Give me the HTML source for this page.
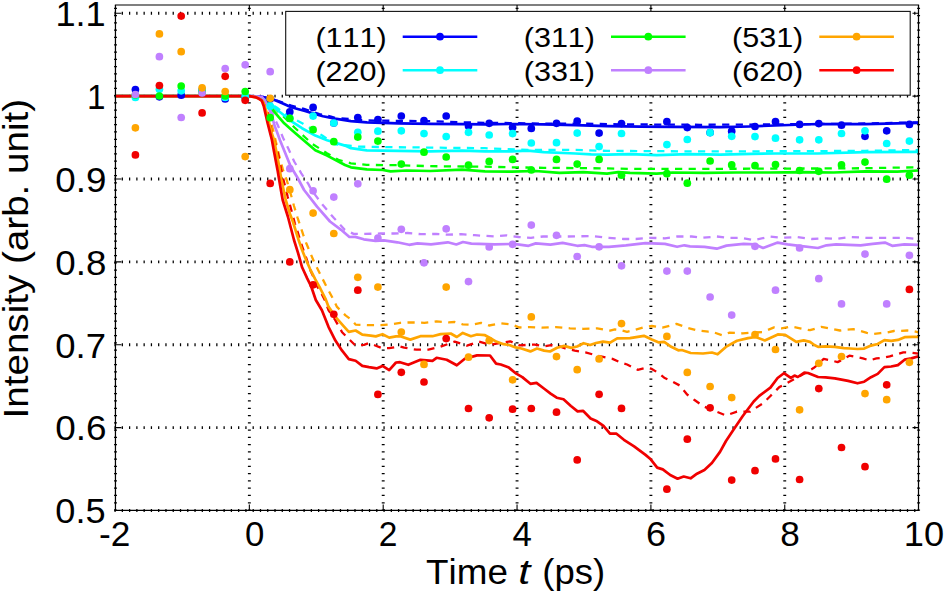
<!DOCTYPE html>
<html><head><meta charset="utf-8"><style>
html,body{margin:0;padding:0;background:#fff;width:944px;height:594px;overflow:hidden}
svg{display:block}
text{font-family:"Liberation Sans", sans-serif;fill:#000;font-kerning:none;font-feature-settings:"kern" 0}
</style></head><body>
<svg width="944" height="594" viewBox="0 0 944 594">
<rect width="944" height="594" fill="#fff"/>
<g stroke="#000" stroke-width="2.9" stroke-dasharray="1.25 6.02" fill="none"><line x1="249.35" y1="510.66" x2="249.35" y2="5.00"/><line x1="383.20" y1="510.66" x2="383.20" y2="5.00"/><line x1="517.05" y1="510.66" x2="517.05" y2="5.00"/><line x1="650.90" y1="510.66" x2="650.90" y2="5.00"/><line x1="784.75" y1="510.66" x2="784.75" y2="5.00"/><line x1="918.60" y1="510.66" x2="918.60" y2="5.00"/><line x1="115.50" y1="510.66" x2="115.50" y2="5.00"/><line x1="114.45" y1="13.29" x2="918.50" y2="13.29"/><line x1="114.45" y1="96.15" x2="918.50" y2="96.15"/><line x1="114.45" y1="179.01" x2="918.50" y2="179.01"/><line x1="114.45" y1="261.87" x2="918.50" y2="261.87"/><line x1="114.45" y1="344.73" x2="918.50" y2="344.73"/><line x1="114.45" y1="427.59" x2="918.50" y2="427.59"/><line x1="114.45" y1="510.45" x2="918.50" y2="510.45"/></g><path d="M249.35 510.45v-6M249.35 5.0v6M383.20 510.45v-6M383.20 5.0v6M517.05 510.45v-6M517.05 5.0v6M650.90 510.45v-6M650.90 5.0v6M784.75 510.45v-6M784.75 5.0v6M115.45 13.29h6M918.5 13.29h-6M115.45 96.15h6M918.5 96.15h-6M115.45 179.01h6M918.5 179.01h-6M115.45 261.87h6M918.5 261.87h-6M115.45 344.73h6M918.5 344.73h-6M115.45 427.59h6M918.5 427.59h-6" stroke="#000" stroke-width="1.1" fill="none"/><path d="M249.4 96.2 L262.0 96.5 L277.0 100.5 L291.3 105.6 L303.9 108.9 L319.4 114.0 L331.0 116.6 L335.0 117.8 L366.8 120.4 L398.6 120.9 L430.3 121.2 L462.1 122.3 L485.0 122.8 L511.8 123.1 L543.6 123.6 L575.3 123.6 L607.1 124.1 L630.0 124.4 L700.0 124.8 L775.0 124.4 L820.0 124.0 L865.0 123.5 L918.6 122.3" fill="none" stroke="#0000f0" stroke-width="2.3" stroke-dasharray="7.2 6.4" stroke-linejoin="round"/><path d="M249.4 96.2 L258.0 97.0 L264.0 99.5 L270.0 103.5 L277.0 107.7 L282.0 111.9 L298.0 121.1 L303.1 123.7 L322.6 135.7 L335.0 144.3 L358.8 146.6 L382.7 147.1 L414.5 147.4 L446.2 147.8 L485.0 148.2 L527.7 149.8 L575.3 149.8 L607.1 150.9 L700.0 151.4 L800.0 151.2 L865.0 150.8 L918.5 150.0" fill="none" stroke="#00ffff" stroke-width="2.3" stroke-dasharray="7.2 6.4" stroke-linejoin="round"/><path d="M249.3 96.2 L256.0 96.8 L262.0 98.0 L268.0 102.5 L274.5 108.0 L284.0 117.0 L294.5 127.5 L304.7 137.0 L311.9 143.6 L317.8 147.4 L326.5 153.0 L338.3 159.8 L350.9 163.3 L366.8 164.9 L398.6 165.2 L430.3 166.2 L462.1 166.5 L485.0 166.7 L511.8 167.3 L543.6 167.8 L575.3 168.1 L607.1 168.4 L630.0 168.9 L700.0 168.9 L775.0 168.6 L850.0 168.4 L918.5 167.3" fill="none" stroke="#00ff00" stroke-width="2.3" stroke-dasharray="7.2 6.4" stroke-linejoin="round"/><path d="M249.4 96.2 L260.0 96.8 L265.0 100.0 L269.0 106.0 L272.5 113.0 L275.3 120.0 L277.7 125.0 L283.6 139.1 L288.3 148.6 L294.2 161.5 L301.3 173.3 L308.3 183.9 L311.5 190.0 L322.6 204.8 L333.7 217.8 L344.8 229.8 L353.6 233.9 L365.4 233.9 L380.5 233.5 L394.0 233.5 L407.4 233.0 L420.9 234.2 L436.1 233.9 L447.8 234.7 L461.3 234.2 L474.8 235.2 L494.4 236.5 L506.5 235.3 L518.7 237.0 L530.9 237.8 L543.1 236.5 L567.5 236.5 L591.8 236.1 L608.9 237.8 L623.5 239.0 L635.7 239.0 L650.3 237.8 L664.9 238.3 L677.1 236.5 L691.7 236.5 L702.2 237.8 L716.8 236.5 L729.0 237.8 L741.2 237.8 L753.4 240.2 L770.4 236.5 L782.6 237.8 L797.2 237.0 L811.8 239.0 L826.5 238.3 L836.2 239.0 L850.8 237.0 L865.4 237.8 L880.0 237.8 L904.4 237.8 L918.6 239.0" fill="none" stroke="#c080ff" stroke-width="2.3" stroke-dasharray="7.2 6.4" stroke-linejoin="round"/><path d="M249.3 96.2 L258.0 97.3 L263.0 100.3 L267.0 107.8 L270.0 117.8 L273.0 129.7 L278.9 154.5 L283.0 170.0 L287.0 181.0 L291.0 195.0 L294.0 206.0 L297.6 217.8 L303.1 234.4 L306.2 243.0 L314.2 262.2 L320.3 274.3 L326.4 286.5 L332.9 298.6 L337.0 306.9 L345.5 315.4 L352.2 320.4 L355.6 324.6 L367.3 325.1 L380.8 325.1 L392.6 324.1 L400.2 322.8 L410.3 322.4 L424.4 322.8 L436.6 321.4 L448.7 322.4 L454.7 322.0 L462.8 324.4 L470.9 324.8 L481.0 322.8 L489.1 325.5 L501.2 323.4 L511.3 324.4 L519.4 327.5 L530.0 327.1 L541.8 327.7 L555.9 327.1 L570.0 328.3 L583.0 328.8 L597.1 328.3 L610.1 330.6 L614.8 329.4 L620.0 330.0 L627.1 331.8 L634.1 330.0 L646.5 326.5 L651.8 326.0 L662.4 327.7 L676.5 323.8 L687.1 327.7 L697.7 330.5 L708.3 331.6 L711.1 331.5 L722.2 335.2 L729.6 332.6 L742.6 333.3 L763.0 332.0 L774.1 327.4 L781.5 328.3 L790.7 326.5 L800.0 328.3 L810.0 330.2 L821.3 326.9 L830.0 328.5 L840.0 330.5 L845.4 329.7 L853.5 329.2 L860.2 330.8 L866.9 332.8 L872.3 334.1 L880.4 333.1 L887.1 332.4 L893.9 331.0 L900.6 330.8 L907.3 330.5 L912.7 331.0 L918.5 332.4" fill="none" stroke="#ffa500" stroke-width="2.3" stroke-dasharray="7.2 6.4" stroke-linejoin="round"/><path d="M249.3 96.2 L258.0 97.3 L263.0 100.8 L266.0 107.8 L269.0 118.8 L271.2 129.7 L275.3 143.9 L278.5 155.5 L281.0 169.0 L284.0 182.0 L287.7 196.7 L290.0 205.0 L294.8 223.3 L298.0 233.0 L301.6 245.0 L306.2 258.0 L310.7 271.0 L313.7 277.4 L315.8 284.4 L319.3 289.5 L324.8 300.0 L328.6 310.3 L335.4 320.4 L342.1 332.2 L348.8 338.9 L355.6 345.7 L364.0 344.8 L369.0 343.1 L375.8 345.7 L382.5 348.2 L389.2 348.2 L400.0 346.5 L404.2 347.7 L416.4 349.7 L428.5 349.7 L440.6 346.7 L454.7 341.6 L466.9 345.7 L479.0 341.6 L490.0 344.7 L510.2 341.3 L519.6 345.4 L530.4 344.7 L534.7 344.7 L544.1 346.3 L551.2 345.1 L558.3 345.9 L565.3 348.3 L574.8 350.6 L585.4 352.4 L598.3 355.9 L612.5 358.9 L621.9 363.0 L627.1 364.5 L637.7 369.8 L646.5 367.7 L651.8 368.9 L658.9 373.3 L664.2 377.7 L673.0 381.8 L680.1 385.7 L687.1 394.5 L694.2 399.8 L703.0 406.0 L709.3 408.9 L716.7 411.7 L725.9 415.4 L737.0 411.7 L750.0 411.7 L763.0 403.3 L770.2 396.2 L779.3 387.1 L785.7 383.9 L800.0 376.0 L813.5 368.1 L816.3 365.8 L823.7 358.9 L830.6 360.3 L837.6 362.1 L842.2 359.8 L849.4 355.7 L856.2 357.0 L862.9 358.4 L869.6 360.4 L876.4 358.4 L883.1 357.7 L889.8 356.4 L896.6 354.3 L903.3 352.3 L910.0 352.6 L918.5 353.7" fill="none" stroke="#f00000" stroke-width="2.3" stroke-dasharray="7.2 6.4" stroke-linejoin="round"/><path d="M115.5 96.2 L249.3 96.2 L256.0 96.3 L262.0 96.7 L272.8 99.3 L282.9 103.5 L291.3 107.3 L305.0 111.0 L313.0 113.4 L323.0 116.2 L335.0 118.6 L350.9 121.2 L366.8 122.3 L382.7 122.8 L398.6 123.3 L430.3 123.9 L462.1 124.1 L485.0 124.3 L511.8 124.0 L543.6 124.4 L575.3 125.2 L607.1 126.2 L640.0 126.6 L672.7 126.8 L720.3 127.2 L750.0 126.5 L775.0 125.5 L817.7 124.0 L865.3 124.1 L897.1 123.3 L918.6 122.8" fill="none" stroke="#0000f0" stroke-width="2.7" stroke-linejoin="round"/><path d="M115.5 96.2 L249.3 96.2 L256.0 96.5 L262.0 98.0 L267.0 101.5 L273.4 106.4 L279.5 111.8 L285.6 116.5 L292.3 121.9 L302.0 128.2 L315.3 135.6 L327.1 140.3 L345.0 145.6 L350.9 148.2 L366.8 150.3 L398.6 150.9 L430.3 151.4 L462.1 150.6 L485.0 151.4 L511.8 151.4 L527.7 150.6 L543.6 152.2 L575.3 153.5 L591.2 154.3 L607.1 154.6 L630.0 154.1 L656.8 155.1 L688.6 154.1 L720.3 154.6 L752.1 153.8 L775.0 153.5 L817.7 153.5 L865.3 152.2 L918.5 151.9" fill="none" stroke="#00ffff" stroke-width="2.7" stroke-linejoin="round"/><path d="M115.5 96.2 L249.3 96.2 L258.0 97.0 L262.0 98.5 L266.0 102.0 L269.5 105.8 L272.8 109.8 L278.8 117.2 L284.2 123.3 L290.3 128.7 L295.7 133.4 L303.6 140.3 L315.3 150.3 L327.1 155.6 L345.0 165.0 L350.9 167.3 L366.8 169.4 L382.7 170.0 L390.6 171.3 L406.5 170.5 L430.3 171.0 L462.1 169.7 L485.0 171.3 L511.8 171.6 L535.6 171.0 L559.5 172.9 L583.3 172.1 L607.1 173.7 L618.2 172.1 L630.0 172.9 L656.8 173.7 L672.7 172.5 L704.5 172.9 L736.2 172.5 L770.0 172.5 L801.8 172.1 L833.6 172.5 L865.3 171.3 L897.1 171.6 L918.5 170.5" fill="none" stroke="#00ff00" stroke-width="2.7" stroke-linejoin="round"/><path d="M115.5 96.2 L249.3 96.2 L258.0 96.5 L261.8 96.9 L265.2 101.0 L269.4 109.4 L271.9 115.3 L274.3 125.0 L277.0 132.1 L280.0 140.3 L284.8 152.1 L290.6 166.3 L297.7 178.0 L304.1 190.0 L317.0 206.7 L330.0 221.5 L341.1 229.8 L349.4 237.0 L355.3 236.9 L363.7 239.3 L375.5 240.9 L383.9 240.3 L397.3 242.3 L409.1 244.8 L417.5 243.3 L431.0 244.3 L447.8 242.3 L456.3 244.5 L463.0 242.0 L471.4 243.6 L494.4 244.3 L513.9 243.9 L528.5 245.8 L535.8 243.4 L550.4 244.6 L562.6 242.9 L577.2 245.8 L584.5 245.1 L591.8 246.8 L608.9 246.8 L625.9 245.3 L645.4 243.1 L664.9 243.9 L677.1 246.8 L684.4 245.3 L690.0 246.3 L704.6 246.8 L716.8 248.7 L726.5 245.6 L743.6 243.9 L754.6 244.3 L763.1 248.0 L777.7 242.6 L787.5 244.3 L799.6 245.8 L817.9 248.0 L826.5 245.3 L836.2 244.3 L860.6 245.3 L872.7 243.9 L884.9 242.6 L892.2 245.8 L904.4 244.3 L918.6 244.8" fill="none" stroke="#c080ff" stroke-width="2.7" stroke-linejoin="round"/><path d="M115.5 96.2 L249.3 96.2 L256.0 97.3 L260.0 99.3 L263.0 101.8 L265.0 106.8 L267.0 114.2 L269.3 123.5 L272.0 134.0 L274.1 140.0 L278.0 160.0 L281.5 180.0 L285.7 200.0 L290.0 214.0 L293.0 222.0 L298.6 240.0 L302.1 250.1 L306.2 260.2 L310.2 269.3 L315.3 279.4 L320.3 288.5 L325.4 298.6 L328.6 306.9 L337.0 318.7 L343.8 326.3 L348.8 331.9 L355.6 330.5 L362.3 334.7 L370.7 335.6 L375.8 336.4 L382.5 334.2 L389.2 337.6 L396.0 336.4 L400.2 336.2 L410.3 339.6 L420.4 336.2 L432.5 336.2 L440.6 334.1 L450.7 333.5 L456.8 337.0 L462.8 332.9 L470.9 336.2 L477.0 334.5 L485.0 335.2 L490.0 338.0 L496.2 341.6 L503.5 344.2 L509.3 345.0 L515.6 347.4 L521.4 348.5 L530.4 351.4 L537.0 348.5 L544.1 350.6 L550.0 351.5 L557.1 347.8 L564.2 345.9 L571.2 347.9 L577.1 346.5 L583.6 343.2 L590.1 345.0 L596.0 343.0 L603.0 341.6 L610.1 342.7 L617.2 338.3 L630.0 338.2 L643.9 335.8 L651.8 339.4 L658.9 342.4 L664.2 341.9 L671.2 346.8 L678.3 350.3 L681.8 350.0 L690.7 353.0 L703.0 353.5 L711.9 352.5 L717.6 354.3 L725.9 346.9 L737.0 340.7 L748.1 338.1 L755.6 337.0 L764.8 340.4 L777.8 334.4 L785.2 334.8 L796.3 341.9 L803.7 340.4 L810.0 341.9 L814.4 345.0 L818.1 346.9 L825.6 346.4 L834.8 346.9 L844.0 348.2 L850.0 348.5 L857.5 349.0 L864.2 348.6 L871.0 345.6 L877.7 344.0 L884.4 340.2 L891.2 340.9 L897.9 339.9 L904.6 337.2 L912.7 336.8 L918.5 336.8" fill="none" stroke="#ffa500" stroke-width="2.7" stroke-linejoin="round"/><path d="M115.5 96.2 L249.3 96.2 L255.1 97.1 L259.0 98.8 L261.8 100.7 L263.9 106.6 L265.6 114.2 L267.7 123.5 L270.3 133.6 L271.9 140.0 L274.1 152.0 L277.7 171.0 L280.9 190.0 L282.7 200.0 L288.0 217.0 L294.0 240.0 L298.1 253.1 L302.1 267.3 L307.2 278.4 L311.2 286.5 L315.8 300.0 L321.9 310.3 L328.6 327.1 L335.4 340.6 L342.1 350.7 L348.8 359.1 L355.6 360.8 L362.3 365.9 L369.0 367.2 L376.6 368.4 L382.5 365.9 L389.2 370.1 L396.0 362.5 L400.0 362.2 L408.3 364.8 L420.4 359.8 L432.5 360.8 L436.6 357.8 L446.7 359.8 L456.8 365.3 L464.8 358.8 L477.0 355.4 L490.0 355.5 L496.1 363.6 L500.8 364.5 L508.9 367.6 L516.3 373.7 L522.3 377.1 L530.4 383.8 L536.5 382.9 L543.9 388.5 L550.6 393.6 L556.7 397.7 L563.5 399.3 L570.9 406.0 L577.6 411.4 L583.0 410.8 L590.6 418.5 L597.0 421.3 L603.5 425.9 L610.0 433.7 L616.5 433.7 L623.9 439.8 L634.1 446.3 L645.2 454.6 L650.7 459.3 L657.2 467.6 L662.8 469.4 L670.2 475.0 L677.6 478.7 L683.7 476.5 L690.6 478.3 L697.0 473.7 L704.4 470.0 L711.9 463.0 L720.0 451.9 L726.0 441.0 L733.3 430.0 L742.6 416.3 L753.7 401.5 L759.3 395.9 L770.4 387.6 L777.6 378.0 L783.9 373.2 L790.8 377.9 L794.5 375.6 L797.8 377.0 L804.3 372.6 L808.0 373.0 L818.1 377.0 L825.6 377.4 L834.8 378.3 L840.2 379.3 L848.1 380.9 L857.5 383.3 L864.2 381.7 L871.0 377.2 L877.7 373.9 L884.4 367.1 L891.2 366.5 L897.9 365.1 L904.6 359.7 L911.4 358.4 L918.5 356.3" fill="none" stroke="#f00000" stroke-width="2.7" stroke-linejoin="round"/><g fill="#0000f0"><circle cx="135.4" cy="89.6" r="3.85"/><circle cx="159.4" cy="96.8" r="3.85"/><circle cx="181.2" cy="95.2" r="3.85"/><circle cx="202.1" cy="90.0" r="3.85"/><circle cx="225.2" cy="98.9" r="3.85"/><circle cx="245.2" cy="97.5" r="3.85"/><circle cx="270.2" cy="99.0" r="3.85"/><circle cx="289.8" cy="111.8" r="3.85"/><circle cx="313.1" cy="107.4" r="3.85"/><circle cx="333.8" cy="123.0" r="3.85"/><circle cx="357.8" cy="117.6" r="3.85"/><circle cx="377.9" cy="119.6" r="3.85"/><circle cx="401.3" cy="116.0" r="3.85"/><circle cx="424.0" cy="120.7" r="3.85"/><circle cx="446.2" cy="116.0" r="3.85"/><circle cx="468.5" cy="126.0" r="3.85"/><circle cx="489.2" cy="123.3" r="3.85"/><circle cx="512.6" cy="127.6" r="3.85"/><circle cx="531.3" cy="128.4" r="3.85"/><circle cx="556.5" cy="123.3" r="3.85"/><circle cx="577.2" cy="121.2" r="3.85"/><circle cx="599.1" cy="133.1" r="3.85"/><circle cx="621.5" cy="123.6" r="3.85"/><circle cx="666.9" cy="121.7" r="3.85"/><circle cx="687.3" cy="127.6" r="3.85"/><circle cx="710.1" cy="132.6" r="3.85"/><circle cx="731.7" cy="131.2" r="3.85"/><circle cx="755.0" cy="126.5" r="3.85"/><circle cx="775.5" cy="121.7" r="3.85"/><circle cx="799.6" cy="124.4" r="3.85"/><circle cx="818.8" cy="123.6" r="3.85"/><circle cx="841.5" cy="125.2" r="3.85"/><circle cx="865.0" cy="136.3" r="3.85"/><circle cx="886.7" cy="130.8" r="3.85"/><circle cx="909.4" cy="124.4" r="3.85"/></g><g fill="#00ffff"><circle cx="135.4" cy="97.4" r="3.85"/><circle cx="159.4" cy="89.3" r="3.85"/><circle cx="181.2" cy="90.8" r="3.85"/><circle cx="202.1" cy="90.0" r="3.85"/><circle cx="225.2" cy="97.5" r="3.85"/><circle cx="245.2" cy="96.2" r="3.85"/><circle cx="270.2" cy="106.2" r="3.85"/><circle cx="289.8" cy="118.3" r="3.85"/><circle cx="313.1" cy="116.1" r="3.85"/><circle cx="333.8" cy="123.0" r="3.85"/><circle cx="357.8" cy="132.3" r="3.85"/><circle cx="377.9" cy="131.2" r="3.85"/><circle cx="401.3" cy="130.8" r="3.85"/><circle cx="424.0" cy="133.6" r="3.85"/><circle cx="446.2" cy="136.6" r="3.85"/><circle cx="468.5" cy="132.3" r="3.85"/><circle cx="489.2" cy="135.0" r="3.85"/><circle cx="512.6" cy="133.6" r="3.85"/><circle cx="531.3" cy="143.0" r="3.85"/><circle cx="556.5" cy="142.7" r="3.85"/><circle cx="577.2" cy="133.1" r="3.85"/><circle cx="599.1" cy="146.6" r="3.85"/><circle cx="621.5" cy="133.5" r="3.85"/><circle cx="666.9" cy="144.6" r="3.85"/><circle cx="687.3" cy="139.5" r="3.85"/><circle cx="710.1" cy="132.7" r="3.85"/><circle cx="731.7" cy="136.3" r="3.85"/><circle cx="755.0" cy="136.6" r="3.85"/><circle cx="775.5" cy="138.2" r="3.85"/><circle cx="799.6" cy="139.8" r="3.85"/><circle cx="818.8" cy="139.8" r="3.85"/><circle cx="841.5" cy="133.5" r="3.85"/><circle cx="865.0" cy="130.8" r="3.85"/><circle cx="886.7" cy="143.5" r="3.85"/><circle cx="909.4" cy="141.1" r="3.85"/></g><g fill="#00ff00"><circle cx="135.4" cy="95.0" r="3.85"/><circle cx="159.4" cy="96.0" r="3.85"/><circle cx="181.2" cy="86.0" r="3.85"/><circle cx="202.1" cy="92.5" r="3.85"/><circle cx="225.2" cy="96.0" r="3.85"/><circle cx="245.2" cy="91.5" r="3.85"/><circle cx="270.2" cy="117.7" r="3.85"/><circle cx="289.8" cy="118.4" r="3.85"/><circle cx="313.1" cy="129.7" r="3.85"/><circle cx="333.8" cy="141.7" r="3.85"/><circle cx="357.8" cy="137.1" r="3.85"/><circle cx="377.9" cy="141.1" r="3.85"/><circle cx="401.3" cy="164.1" r="3.85"/><circle cx="424.0" cy="152.2" r="3.85"/><circle cx="446.2" cy="157.0" r="3.85"/><circle cx="468.5" cy="165.2" r="3.85"/><circle cx="489.2" cy="161.4" r="3.85"/><circle cx="512.6" cy="159.4" r="3.85"/><circle cx="531.3" cy="170.0" r="3.85"/><circle cx="556.5" cy="159.4" r="3.85"/><circle cx="577.2" cy="164.1" r="3.85"/><circle cx="599.1" cy="159.4" r="3.85"/><circle cx="621.5" cy="175.2" r="3.85"/><circle cx="666.9" cy="173.7" r="3.85"/><circle cx="687.3" cy="183.2" r="3.85"/><circle cx="710.1" cy="161.0" r="3.85"/><circle cx="731.7" cy="164.9" r="3.85"/><circle cx="755.0" cy="165.7" r="3.85"/><circle cx="775.5" cy="164.6" r="3.85"/><circle cx="799.6" cy="170.5" r="3.85"/><circle cx="818.8" cy="171.3" r="3.85"/><circle cx="841.5" cy="164.9" r="3.85"/><circle cx="865.0" cy="162.1" r="3.85"/><circle cx="886.7" cy="179.2" r="3.85"/><circle cx="909.4" cy="175.2" r="3.85"/></g><g fill="#c080ff"><circle cx="135.4" cy="94.5" r="3.85"/><circle cx="159.4" cy="56.7" r="3.85"/><circle cx="181.2" cy="117.5" r="3.85"/><circle cx="202.1" cy="93.0" r="3.85"/><circle cx="225.2" cy="68.5" r="3.85"/><circle cx="245.2" cy="64.8" r="3.85"/><circle cx="270.2" cy="71.7" r="3.85"/><circle cx="289.8" cy="168.7" r="3.85"/><circle cx="313.1" cy="190.8" r="3.85"/><circle cx="333.8" cy="197.1" r="3.85"/><circle cx="357.8" cy="183.8" r="3.85"/><circle cx="377.9" cy="238.1" r="3.85"/><circle cx="401.3" cy="229.3" r="3.85"/><circle cx="424.0" cy="262.8" r="3.85"/><circle cx="446.2" cy="228.8" r="3.85"/><circle cx="468.5" cy="281.6" r="3.85"/><circle cx="489.2" cy="247.0" r="3.85"/><circle cx="512.6" cy="244.3" r="3.85"/><circle cx="531.3" cy="225.1" r="3.85"/><circle cx="556.5" cy="235.3" r="3.85"/><circle cx="577.2" cy="256.5" r="3.85"/><circle cx="599.1" cy="246.8" r="3.85"/><circle cx="621.5" cy="265.8" r="3.85"/><circle cx="666.9" cy="271.1" r="3.85"/><circle cx="687.3" cy="271.1" r="3.85"/><circle cx="710.1" cy="297.0" r="3.85"/><circle cx="731.7" cy="315.1" r="3.85"/><circle cx="755.0" cy="246.3" r="3.85"/><circle cx="775.5" cy="290.2" r="3.85"/><circle cx="799.6" cy="248.0" r="3.85"/><circle cx="818.8" cy="278.7" r="3.85"/><circle cx="841.5" cy="303.9" r="3.85"/><circle cx="865.0" cy="254.1" r="3.85"/><circle cx="886.7" cy="303.9" r="3.85"/><circle cx="909.4" cy="255.3" r="3.85"/></g><g fill="#ffa500"><circle cx="135.4" cy="127.8" r="3.85"/><circle cx="159.4" cy="33.9" r="3.85"/><circle cx="181.2" cy="51.7" r="3.85"/><circle cx="202.1" cy="87.8" r="3.85"/><circle cx="225.2" cy="91.5" r="3.85"/><circle cx="245.2" cy="156.6" r="3.85"/><circle cx="270.2" cy="98.3" r="3.85"/><circle cx="289.8" cy="189.7" r="3.85"/><circle cx="313.1" cy="213.1" r="3.85"/><circle cx="333.8" cy="233.5" r="3.85"/><circle cx="357.8" cy="277.3" r="3.85"/><circle cx="377.9" cy="287.1" r="3.85"/><circle cx="401.3" cy="332.1" r="3.85"/><circle cx="424.0" cy="364.4" r="3.85"/><circle cx="446.2" cy="287.1" r="3.85"/><circle cx="468.5" cy="357.2" r="3.85"/><circle cx="489.2" cy="340.6" r="3.85"/><circle cx="512.6" cy="379.8" r="3.85"/><circle cx="531.3" cy="316.9" r="3.85"/><circle cx="556.5" cy="356.6" r="3.85"/><circle cx="577.2" cy="369.7" r="3.85"/><circle cx="599.1" cy="358.9" r="3.85"/><circle cx="621.5" cy="323.6" r="3.85"/><circle cx="666.9" cy="336.4" r="3.85"/><circle cx="687.3" cy="372.4" r="3.85"/><circle cx="710.1" cy="386.5" r="3.85"/><circle cx="731.7" cy="397.6" r="3.85"/><circle cx="755.0" cy="334.7" r="3.85"/><circle cx="775.5" cy="349.5" r="3.85"/><circle cx="799.6" cy="409.8" r="3.85"/><circle cx="818.8" cy="363.3" r="3.85"/><circle cx="841.5" cy="356.6" r="3.85"/><circle cx="865.0" cy="393.6" r="3.85"/><circle cx="886.7" cy="399.7" r="3.85"/><circle cx="909.4" cy="362.3" r="3.85"/></g><g fill="#f00000"><circle cx="135.4" cy="154.9" r="3.85"/><circle cx="159.4" cy="85.6" r="3.85"/><circle cx="181.2" cy="16.1" r="3.85"/><circle cx="202.1" cy="112.9" r="3.85"/><circle cx="225.2" cy="76.3" r="3.85"/><circle cx="245.2" cy="100.3" r="3.85"/><circle cx="270.2" cy="183.4" r="3.85"/><circle cx="289.8" cy="261.9" r="3.85"/><circle cx="313.1" cy="284.8" r="3.85"/><circle cx="333.8" cy="314.3" r="3.85"/><circle cx="357.8" cy="290.2" r="3.85"/><circle cx="377.9" cy="394.4" r="3.85"/><circle cx="401.3" cy="372.3" r="3.85"/><circle cx="424.0" cy="382.0" r="3.85"/><circle cx="446.2" cy="338.6" r="3.85"/><circle cx="468.5" cy="408.5" r="3.85"/><circle cx="489.2" cy="417.8" r="3.85"/><circle cx="512.6" cy="409.2" r="3.85"/><circle cx="531.3" cy="408.5" r="3.85"/><circle cx="556.5" cy="412.2" r="3.85"/><circle cx="577.2" cy="459.9" r="3.85"/><circle cx="599.1" cy="394.3" r="3.85"/><circle cx="621.5" cy="408.4" r="3.85"/><circle cx="666.9" cy="489.2" r="3.85"/><circle cx="687.3" cy="439.2" r="3.85"/><circle cx="710.1" cy="407.8" r="3.85"/><circle cx="731.7" cy="480.1" r="3.85"/><circle cx="755.0" cy="470.7" r="3.85"/><circle cx="775.5" cy="458.9" r="3.85"/><circle cx="799.6" cy="479.5" r="3.85"/><circle cx="818.8" cy="388.6" r="3.85"/><circle cx="841.5" cy="447.5" r="3.85"/><circle cx="865.0" cy="466.7" r="3.85"/><circle cx="886.7" cy="384.8" r="3.85"/><circle cx="909.4" cy="289.4" r="3.85"/></g><rect x="285.7" y="11.4" width="624.5" height="83.8" fill="#fff" stroke="#111" stroke-width="1.1"/><path d="M115.45 5.0V510.45H918.5V5.0" fill="none" stroke="#000" stroke-width="1.25"/><path d="M114.85000000000001 5.0H919.1" stroke="#000" stroke-width="1.1"/>
<line x1="402.7" y1="36.7" x2="477.3" y2="36.7" stroke="#0000ff" stroke-width="2.45"/><circle cx="440.0" cy="36.7" r="3.85" fill="#0000ff"/><line x1="402.7" y1="70.2" x2="477.3" y2="70.2" stroke="#00ffff" stroke-width="2.45"/><circle cx="440.0" cy="70.2" r="3.85" fill="#00ffff"/><line x1="611.0" y1="36.7" x2="685.6" y2="36.7" stroke="#00ff00" stroke-width="2.45"/><circle cx="648.3" cy="36.7" r="3.85" fill="#00ff00"/><line x1="611.0" y1="70.2" x2="685.6" y2="70.2" stroke="#c080ff" stroke-width="2.45"/><circle cx="648.3" cy="70.2" r="3.85" fill="#c080ff"/><line x1="819.3" y1="36.7" x2="893.9" y2="36.7" stroke="#ffa500" stroke-width="2.45"/><circle cx="856.6" cy="36.7" r="3.85" fill="#ffa500"/><line x1="819.3" y1="70.2" x2="893.9" y2="70.2" stroke="#ff0000" stroke-width="2.45"/><circle cx="856.6" cy="70.2" r="3.85" fill="#ff0000"/>
<text transform="translate(55.39,26.09) scale(1.0346,1)" font-size="35.0" fill="#000">1.1</text><text transform="translate(87.10,108.95) scale(0.9493,1)" font-size="35.0" fill="#000">1</text><text transform="translate(55.26,191.81) scale(1.0516,1)" font-size="35.0" fill="#000">0.9</text><text transform="translate(55.26,274.67) scale(1.0499,1)" font-size="35.0" fill="#000">0.8</text><text transform="translate(55.27,357.53) scale(1.0430,1)" font-size="35.0" fill="#000">0.7</text><text transform="translate(55.25,440.39) scale(1.0542,1)" font-size="35.0" fill="#000">0.6</text><text transform="translate(55.28,523.25) scale(1.0350,1)" font-size="35.0" fill="#000">0.5</text><text transform="translate(99.09,545.80) scale(1.0066,1)" font-size="35.0" fill="#000">-2</text><text transform="translate(244.91,545.80) scale(0.9939,1)" font-size="35.0" fill="#000">0</text><text transform="translate(378.68,545.80) scale(0.9580,1)" font-size="35.0" fill="#000">2</text><text transform="translate(512.61,545.80) scale(0.9940,1)" font-size="35.0" fill="#000">4</text><text transform="translate(646.12,545.80) scale(1.0287,1)" font-size="35.0" fill="#000">6</text><text transform="translate(780.21,545.80) scale(1.0047,1)" font-size="35.0" fill="#000">8</text><text transform="translate(903.71,545.80) scale(1.0366,1)" font-size="35.0" fill="#000">10</text><text transform="translate(426.07,584.40) scale(1.0526,1)" font-size="35.0" fill="#000">Time</text><text transform="translate(518.23,584.40) scale(1.2409,1)" font-size="35.0" font-style="italic" fill="#000">t</text><text transform="translate(542.34,584.40) scale(1.0423,1)" font-size="35.0" fill="#000">(ps)</text><text transform="translate(27.70,418.46) rotate(-90) scale(1.1257,1)" font-size="34.3">Intensity (arb. unit)</text><text transform="translate(315.45,46.60) scale(1.0822,1)" font-size="28.2" fill="#000">(111)</text><text transform="translate(315.45,80.90) scale(1.0822,1)" font-size="28.2" fill="#000">(220)</text><text transform="translate(523.75,46.60) scale(1.0822,1)" font-size="28.2" fill="#000">(311)</text><text transform="translate(523.75,80.90) scale(1.0822,1)" font-size="28.2" fill="#000">(331)</text><text transform="translate(732.05,46.60) scale(1.0822,1)" font-size="28.2" fill="#000">(531)</text><text transform="translate(732.05,80.90) scale(1.0822,1)" font-size="28.2" fill="#000">(620)</text>
</svg>
</body></html>
